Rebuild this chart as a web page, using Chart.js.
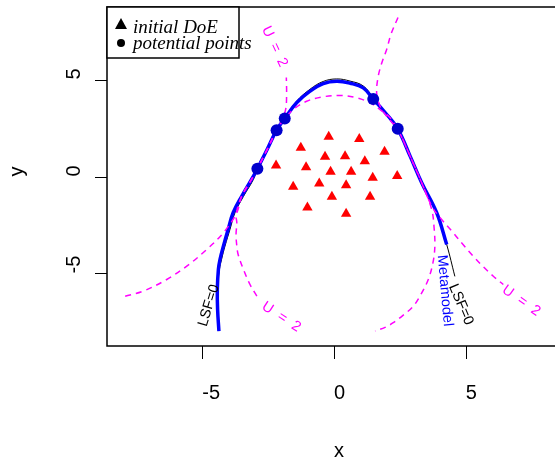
<!DOCTYPE html>
<html>
<head>
<meta charset="utf-8">
<script src="https://cdn.jsdelivr.net/npm/chart.js@4.4.0/dist/chart.umd.min.js"></script>
<style>
  html,body{margin:0;padding:0;background:#fff;overflow:hidden;}
  #wrap{width:575px;height:461px;}
</style>
</head>
<body>
<div id="wrap"><canvas id="c" width="575" height="461"></canvas></div>
<script>
/* =========================
   Data
========================= */
const xTicks = [-5, 0, 5];
const yTicks = [-5, 0, 5];

// initial DoE (red triangles)
const doeX = [-0.20, 0.96, -1.26, 1.92, -0.34, 0.42, 1.17, -2.20, -1.06, -0.13, 0.65, 1.47, 2.40, -0.56, 0.46, -1.55, -0.08, 1.37, -1.01, 0.46];
const doeY = [2.05, 1.94, 1.48, 1.27, 1.02, 1.05, 0.79, 0.57, 0.48, 0.24, 0.24, -0.07, 0.02, -0.36, -0.45, -0.53, -1.05, -1.05, -1.60, -1.92];

// potential points (blue dots)
const potX = [-2.91, -2.18, -1.87, 1.49, 2.42];
const potY = [0.40, 2.39, 2.99, 3.99, 2.46];

// Metamodel contour
const metaX = [-4.37, -4.42, -4.43, -4.39, -4.33, -4.20, -4.02, -3.83, -3.51, -3.13, -2.91, -2.54, -2.18, -1.87, -1.42, -0.91, -0.41, 0.10, 0.61, 1.11, 1.49, 1.94, 2.42, 2.89, 3.33, 3.90, 4.28];
const metaY = [-7.97, -6.86, -5.82, -4.79, -4.28, -3.59, -2.73, -1.87, -1.03, -0.15, 0.40, 1.39, 2.39, 2.99, 3.80, 4.40, 4.79, 4.91, 4.81, 4.57, 3.99, 3.30, 2.46, 1.05, -0.32, -1.87, -3.51];

// LSF = 0 contour
const lsfX = [-4.37, -4.42, -4.43, -4.35, -4.27, -4.14, -3.95, -3.76, -3.44, -3.06, -2.91, -2.54, -2.18, -1.87, -1.42, -0.91, -0.41, 0.10, 0.61, 1.11, 1.49, 1.94, 2.42, 2.89, 3.33, 3.90, 4.28, 4.59];
const lsfY = [-7.97, -6.86, -5.82, -4.79, -4.28, -3.59, -2.73, -1.87, -1.03, -0.15, 0.40, 1.39, 2.39, 3.02, 3.88, 4.50, 4.90, 5.03, 4.92, 4.67, 4.07, 3.33, 2.46, 1.05, -0.32, -1.87, -3.51, -5.15];

// U = 2 contours
const u2LeftX = [-7.93, -7.24, -6.35, -5.59, -4.83, -4.20, -3.69, -3.51, -3.13, -2.91, -2.54, -2.18, -1.97, -1.83, -1.80, -1.81];
const u2LeftY = [-6.17, -5.91, -5.31, -4.62, -3.76, -2.90, -1.87, -1.03, -0.15, 0.40, 1.39, 2.39, 2.94, 3.50, 4.30, 5.10];

const u2InnerX = [-2.93, -3.19, -3.44, -3.64, -3.69, -3.72, -3.69, -3.72, -3.51, -3.13, -2.91, -2.54, -2.18, -2.01, -1.55, -1.04, -0.41, 0.23, 0.86, 1.37, 1.75, 2.13, 2.43, 2.89, 3.33, 3.71, 3.80, 3.83, 3.76, 3.58, 3.30, 3.01, 2.62, 2.25, 1.94, 1.56];
const u2InnerY = [-6.17, -5.57, -4.79, -4.02, -3.59, -2.99, -2.39, -1.95, -1.03, -0.15, 0.40, 1.39, 2.39, 2.73, 3.45, 3.88, 4.11, 4.18, 4.06, 3.80, 3.45, 3.03, 2.42, 1.05, -0.32, -1.70, -2.63, -3.59, -4.43, -5.31, -6.08, -6.69, -7.16, -7.54, -7.78, -7.97];

const u2RightX = [2.43, 2.16, 2.00, 1.82, 1.68, 1.62, 1.75, 2.00, 2.24, 2.42, 2.89, 3.33, 3.72, 4.02, 4.53, 4.90, 5.29, 5.66, 6.05, 6.43];
const u2RightY = [8.20, 7.32, 6.55, 5.88, 5.17, 4.31, 3.62, 3.11, 2.73, 2.46, 1.05, -0.32, -1.55, -2.11, -2.90, -3.51, -4.11, -4.64, -5.14, -5.57];

// contour labels (anchored in data units)
const contourLabels = [
  {text:'U = 2',     x:-2.24, y: 6.65, angle: 65, color:'#FF00FF', spacing:2},
  {text:'U = 2',     x:-1.97, y:-7.27, angle: 33, color:'#FF00FF', spacing:2},
  {text:'U = 2',     x: 7.14, y:-6.44, angle: 35, color:'#FF00FF', spacing:2},
  {text:'Metamodel', x: 4.21, y:-5.88, angle: 85, color:'#0000FF', spacing:0},
  {text:'LSF=0',     x: 4.82, y:-6.60, angle: 67, color:'#000000', spacing:0},
  {text:'LSF=0',     x:-4.75, y:-6.65, angle:-73, color:'#000000', spacing:0}
];

const pts = (xs, ys) => xs.map((x,i) => ({x, y: ys[i]}));

/* =========================
   R-like frame, axes, legend, labels
========================= */
const rFrame = {
  id: 'rFrame',
  afterDraw(chart){
    const {ctx, chartArea:a, scales:{x, y}} = chart;
    ctx.save();
    ctx.strokeStyle = '#000';
    ctx.fillStyle = '#000';
    ctx.lineWidth = 1.5;
    ctx.strokeRect(a.left, a.top, a.right - a.left, a.bottom - a.top);

    // ticks
    ctx.lineWidth = 1;
    ctx.beginPath();
    xTicks.forEach(v => { const p = Math.round(x.getPixelForValue(v)) + 0.5; ctx.moveTo(p, a.bottom); ctx.lineTo(p, a.bottom + 13); });
    yTicks.forEach(v => { const p = Math.round(y.getPixelForValue(v)) + 0.5; ctx.moveTo(a.left, p); ctx.lineTo(a.left - 12, p); });
    ctx.stroke();

    // tick labels (left-anchored, like the reference)
    ctx.font = '20px "Liberation Sans", Arial, sans-serif';
    ctx.textAlign = 'left';
    ctx.textBaseline = 'alphabetic';
    xTicks.forEach(v => ctx.fillText(String(v), x.getPixelForValue(v), 399));
    yTicks.forEach(v => {
      ctx.save();
      ctx.translate(80, y.getPixelForValue(v));
      ctx.rotate(-Math.PI/2);
      ctx.fillText(String(v), 0, 0);
      ctx.restore();
    });

    // axis titles
    const cx = (a.left + a.right)/2, cy = (a.top + a.bottom)/2;
    ctx.fillText('x', cx, 457);
    ctx.save();
    ctx.translate(23, cy);
    ctx.rotate(-Math.PI/2);
    ctx.fillText('y', 0, 0);
    ctx.restore();

    // contour labels
    ctx.font = '14.5px "Liberation Sans", Arial, sans-serif';
    ctx.textAlign = 'center';
    ctx.textBaseline = 'middle';
    contourLabels.forEach(l => {
      ctx.save();
      ctx.fillStyle = l.color;
      ctx.letterSpacing = l.spacing + 'px';
      ctx.translate(x.getPixelForValue(l.x), y.getPixelForValue(l.y));
      ctx.rotate(l.angle * Math.PI/180);
      ctx.fillText(l.text, 0, 0);
      ctx.restore();
    });

    // legend
    ctx.fillStyle = '#fff';
    ctx.fillRect(a.left, a.top, 132, 51);
    ctx.lineWidth = 1.5;
    ctx.strokeRect(a.left, a.top, 132, 51);
    ctx.fillStyle = '#000';
    ctx.beginPath();
    ctx.moveTo(a.left + 14, a.top + 11);
    ctx.lineTo(a.left + 20, a.top + 22);
    ctx.lineTo(a.left + 8, a.top + 22);
    ctx.closePath();
    ctx.fill();
    ctx.beginPath();
    ctx.arc(a.left + 14, a.top + 36, 4, 0, Math.PI*2);
    ctx.fill();
    ctx.font = 'italic 19px "Liberation Serif", "Times New Roman", serif';
    ctx.textAlign = 'left';
    ctx.textBaseline = 'alphabetic';
    ctx.fillText('initial DoE', a.left + 26, a.top + 26);
    ctx.fillText('potential points', a.left + 26, a.top + 42);
    ctx.restore();
  }
};

/* =========================
   Chart
========================= */
const dashed = {showLine:true, borderColor:'#FF00FF', borderWidth:1.5, borderDash:[6,5], pointRadius:0, tension:0.35, fill:false, order:2};

new Chart(document.getElementById('c'), {
  type: 'scatter',
  data: {
    datasets: [
      {label:'initial DoE', data: pts(doeX, doeY), pointStyle:'triangle', pointRadius:6, backgroundColor:'#FF0000', borderWidth:0, order:0},
      {label:'potential points', data: pts(potX, potY), pointStyle:'circle', pointRadius:6, backgroundColor:'#0000CD', borderWidth:0, order:0},
      Object.assign({label:'U = 2 (left)',  data: pts(u2LeftX, u2LeftY)}, dashed),
      Object.assign({label:'U = 2 (inner)', data: pts(u2InnerX, u2InnerY)}, dashed),
      Object.assign({label:'U = 2 (right)', data: pts(u2RightX, u2RightY)}, dashed),
      {label:'Metamodel', data: pts(metaX, metaY), showLine:true, borderColor:'#0000FF', borderWidth:3.5, pointRadius:0, tension:0.4, order:3},
      {label:'LSF=0', data: pts(lsfX, lsfY), showLine:true, borderColor:'#000000', borderWidth:1, pointRadius:0, tension:0.4, order:4}
    ]
  },
  options: {
    responsive: false,
    animation: false,
    devicePixelRatio: 1,
    layout: { padding: {left:107, top:7, right:14, bottom:115} },
    scales: {
      x: { type:'linear', min:-8.62, max:8.62, display:false },
      y: { type:'linear', min:-8.74, max:8.74, display:false }
    },
    plugins: { legend:{display:false}, tooltip:{enabled:false} }
  },
  plugins: [rFrame]
});
</script>
</body>
</html>
